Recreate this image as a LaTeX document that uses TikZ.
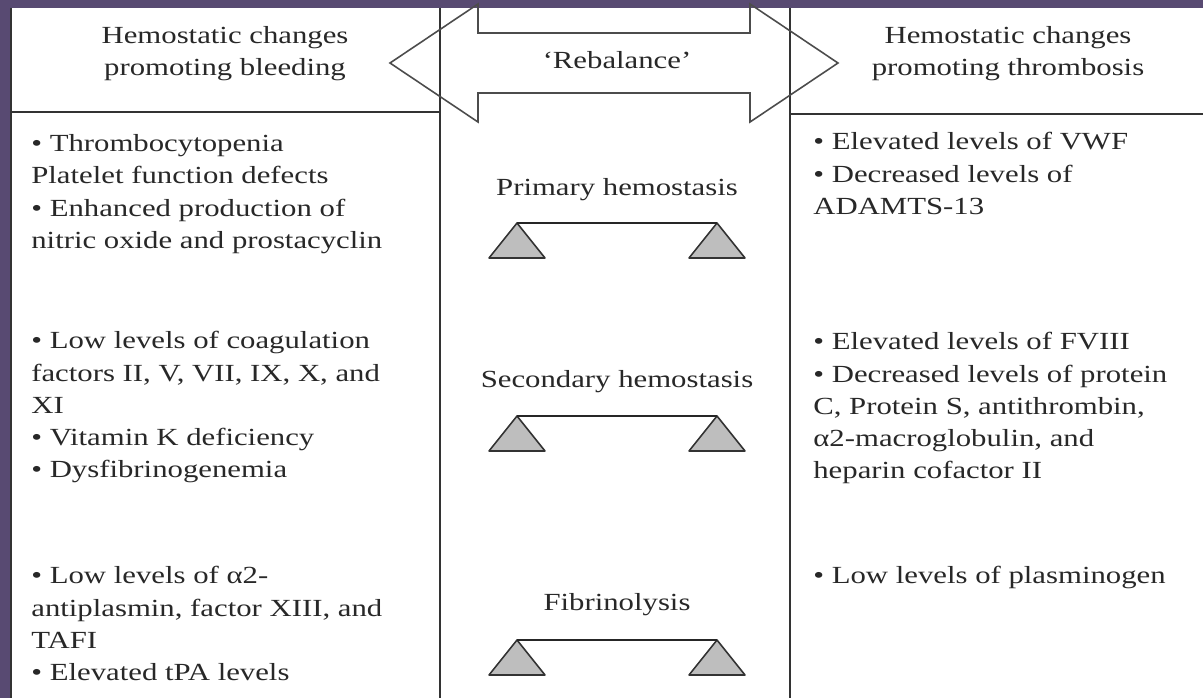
\documentclass[tikz,border=0pt]{standalone}
\usepackage{fontspec}
\setmainfont{Liberation Serif}[FakeStretch=1.25]

\definecolor{framepurple}{RGB}{88,74,114}
\definecolor{inkgray}{RGB}{40,40,40}
\definecolor{pivotgray}{RGB}{190,190,190}

\begin{document}
\begin{tikzpicture}[x=0.02cm, y=-0.02cm,
    every node/.style={font=\fontsize{14pt}{18.4pt}\selectfont, text=inkgray, inner sep=0pt},
    grid line/.style={draw=black!80, line width=1.1pt},
    list text/.style={anchor=north west, align=left},
    head text/.style={anchor=north, align=center},
    row label/.style={anchor=base},
    rebal arrow/.style={draw=black!70, line width=0.9pt, line join=miter},
    pivot/.style={draw=black!80, fill=pivotgray, line width=0.9pt, line join=round},
    beam/.style={draw=black!85, line width=1.1pt}]

  \useasboundingbox (0,0) rectangle (1203,698);

  % frame of the slide
  \fill[framepurple] (0,0) rectangle (1203,698);
  \fill[white] (10,8) rectangle (1203,698);

  % table lines
  \draw[grid line] (11,8) -- (11,698);
  \draw[grid line] (440,8) -- (440,698);
  \draw[grid line] (790,8) -- (790,698);
  \draw[grid line] (11,112) -- (440,112);
  \draw[grid line] (790,114) -- (1203,114);

  % double arrow
  \draw[rebal arrow] (390,63) -- (478,4) -- (478,33) -- (750,33) -- (750,4)
    -- (838,63) -- (750,122) -- (750,93) -- (478,93) -- (478,122) -- cycle;

  % headers
  \node[head text] (bleedhead) at (225,26) {Hemostatic changes\\promoting bleeding};
  \node[head text] (thrombhead) at (1008,26) {Hemostatic changes\\promoting thrombosis};
  \node[row label] (rebal) at (617,68) {`Rebalance'};

  % left column
  \node[list text] (bleedA) at (31,134) {• Thrombocytopenia\\Platelet function defects\\• Enhanced production of\\nitric oxide and prostacyclin};
  \node[list text] (bleedB) at (31,331) {• Low levels of coagulation\\factors II, V, VII, IX, X, and\\XI\\• Vitamin K deficiency\\• Dysfibrinogenemia};
  \node[list text] (bleedC) at (31,566) {• Low levels of α2-\\antiplasmin, factor XIII, and\\TAFI\\• Elevated tPA levels};

  % right column
  \node[list text] (thrombA) at (813,132) {• Elevated levels of VWF\\• Decreased levels of\\ADAMTS-13};
  \node[list text] (thrombB) at (813,332) {• Elevated levels of FVIII\\• Decreased levels of protein\\C, Protein S, antithrombin,\\α2-macroglobulin, and\\heparin cofactor II};
  \node[list text] (thrombC) at (813,566) {• Low levels of plasminogen};

  % middle column
  \node[row label] (primlabel) at (617,195) {Primary hemostasis};
  \node[row label] (seclabel) at (617,387) {Secondary hemostasis};
  \node[row label] (fiblabel) at (617,610) {Fibrinolysis};

  \foreach \nm/\yb in {prim/223, sec/416, fib/640} {
    \coordinate (\nm L) at (517,\yb);
    \coordinate (\nm R) at (717,\yb);
    \filldraw[pivot] (\nm L) -- ++(-28,35) -- ++(56,0) -- cycle;
    \filldraw[pivot] (\nm R) -- ++(-28,35) -- ++(56,0) -- cycle;
    \draw[beam] (\nm L) -- (\nm R);
  }
\end{tikzpicture}
\end{document}
